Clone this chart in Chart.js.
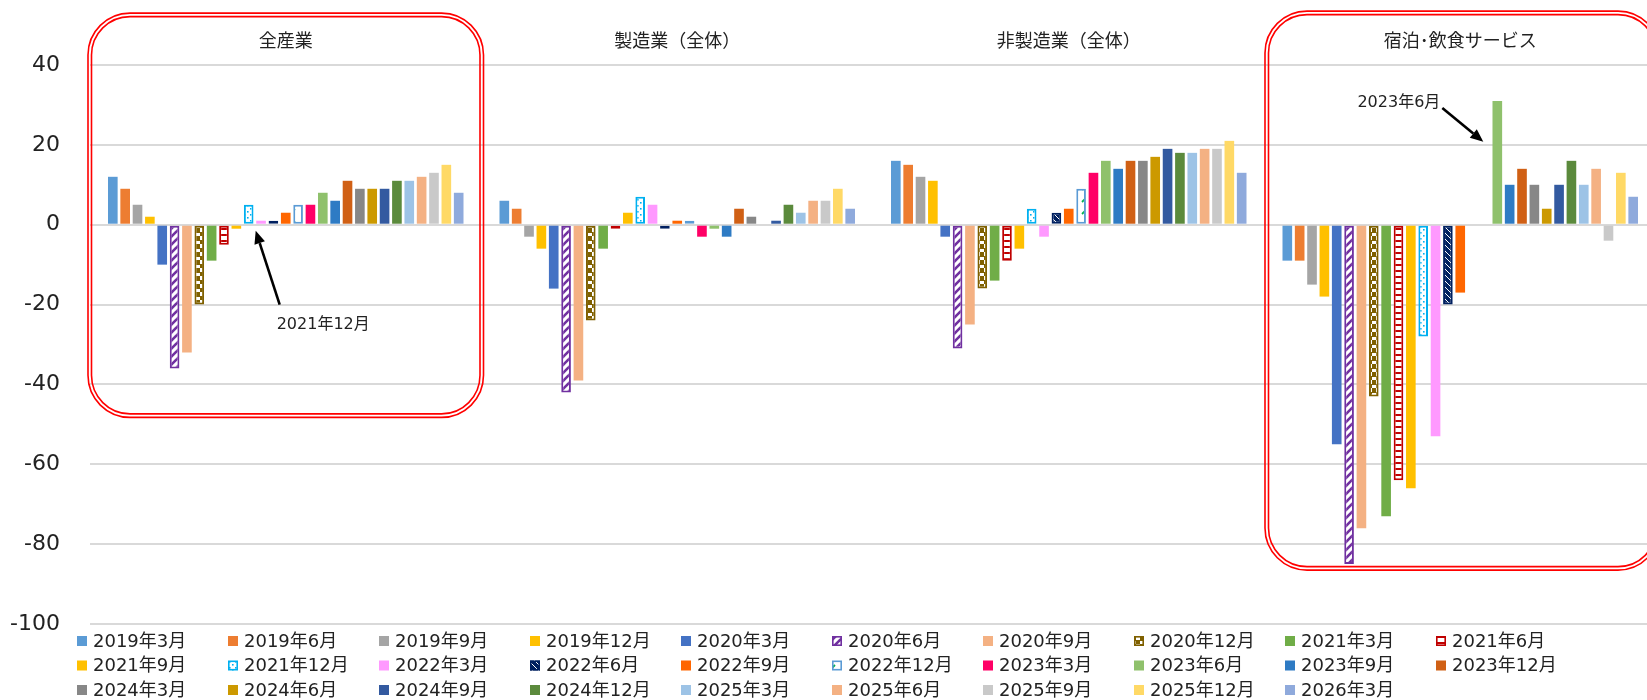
<!DOCTYPE html>
<html><head><meta charset="utf-8">
<script src="https://cdn.jsdelivr.net/npm/chart.js@4/dist/chart.umd.min.js"></script>
<style>html,body{margin:0;padding:0;background:#fff;overflow:hidden}#wrap{width:1647px;height:700px;position:relative;overflow:hidden}</style>
</head><body><div id="wrap"><canvas id="c" width="1656" height="700"></canvas></div>
<script>
// ---- data ----
const categories = ['全産業', '製造業（全体）', '非製造業（全体）', '宿泊･飲食サービス'];
const seriesLabels = ['2019年3月','2019年6月','2019年9月','2019年12月','2020年3月','2020年6月','2020年9月','2020年12月','2021年3月','2021年6月',
  '2021年9月','2021年12月','2022年3月','2022年6月','2022年9月','2022年12月','2023年3月','2023年6月','2023年9月','2023年12月',
  '2024年3月','2024年6月','2024年9月','2024年12月','2025年3月','2025年6月','2025年9月','2025年12月','2026年3月'];
const allIndustry      = [12, 9, 5, 2, -10, -36, -32, -20, -9, -5, -1, 5, 1, 1, 3, 5, 5, 8, 6, 11, 9, 9, 9, 11, 11, 12, 13, 15, 8];
const manufacturing    = [6, 4, -3, -6, -16, -42, -39, -24, -6, -1, 3, 7, 5, -1, 1, 1, -3, -1, -3, 4, 2, 0, 1, 5, 3, 6, 6, 9, 4];
const nonManufacturing = [16, 15, 12, 11, -3, -31, -25, -16, -14, -9, -6, 4, -3, 3, 4, 9, 13, 16, 14, 16, 16, 17, 19, 18, 18, 19, 19, 21, 13];
const accommodation    = [-9, -9, -15, -18, -55, -85, -76, -43, -73, -64, -66, -28, -53, -20, -17, null, null, 31, 10, 14, 10, 4, 10, 16, 10, 14, -4, 13, 7];
const yTicks = [40, 20, 0, -20, -40, -60, -80, -100];
const seriesColors = ['#5B9BD5','#ED7D31','#A5A5A5','#FFC000','#4472C4','#7030A0','#F4B183','#7F6000','#70AD47','#C00000',
  '#FFC000','#00B0F0','#FF99FF','#002060','#FF6600','#00B050','#FF0066','#8FC16C','#2E7BC4','#D06015',
  '#878787','#CC9900','#335AA0','#5B8A3C','#9DC3E6','#F4B183','#C9C9C9','#FFD966','#8FAADC'];
// pattern kind per series (null = solid)
const seriesPatterns = [null,null,null,null,null,'diagUp',null,'checker',null,'hlines',
  null,'dots',null,'diagDown',null,'dashUp',null,null,null,null,null,null,null,null,null,null,null,null,null];
const patternBorders = {15: '#5B9BD5'};
const annoText1 = '2021年12月';
const annoText2 = '2023年6月';

const FONT = '"DejaVu Sans", "Noto Sans CJK JP", sans-serif';
const TEXT = '#222';

function makePattern(kind, fg) {
  const sizes = {diagUp: 8, checker: 8, hlines: 6, dots: 6, diagDown: 6, dashUp: 12};
  const s = sizes[kind];
  const c = document.createElement('canvas'); c.width = s; c.height = s;
  const g = c.getContext('2d');
  const line = (x1, y1, x2, y2) => { g.beginPath(); g.moveTo(x1, y1); g.lineTo(x2, y2); g.stroke(); };
  g.fillStyle = '#fff'; g.fillRect(0, 0, s, s);
  g.strokeStyle = fg; g.fillStyle = fg;
  if (kind === 'diagUp') { g.lineWidth = 2.6; line(-1, s + 1, s + 1, -1); line(-1, 1, 1, -1); line(s - 1, s + 1, s + 1, s - 1); }
  else if (kind === 'checker') { g.fillRect(0, 0, 4, 4); g.fillRect(4, 4, 4, 4); g.fillRect(4, 0, 4, 1); }
  else if (kind === 'hlines') { g.fillRect(0, 0, s, 2); }
  else if (kind === 'dots') { g.fillRect(1, 1, 1.6, 1.6); g.fillRect(4, 4, 1.6, 1.6); }
  else if (kind === 'diagDown') { g.fillRect(0, 0, s, s); g.strokeStyle = '#fff'; g.lineWidth = 1; line(0, 0, s, s); line(-1, s - 1, 1, s + 1); line(s - 1, -1, s + 1, 1); }
  else if (kind === 'dashUp') { g.lineWidth = 1.8; line(2, 10, 7, 5); }
  return document.createElement('canvas').getContext('2d').createPattern(c, 'repeat');
}

const datasets = seriesLabels.map((lab, i) => {
  const pat = seriesPatterns[i];
  const vals = [allIndustry[i], manufacturing[i], nonManufacturing[i], accommodation[i]];
  return {
    label: lab,
    data: vals,
    backgroundColor: pat ? makePattern(pat, seriesColors[i]) : seriesColors[i],
    borderColor: pat ? (patternBorders[i] || seriesColors[i]) : seriesColors[i],
    borderWidth: pat ? 2 : 0,
    borderSkipped: pat ? false : 'start',
    categoryPercentage: 0.915,
    barPercentage: 0.78,
    _pattern: pat
  };
});

function arrow(ctx, x1, y1, x2, y2) {
  const ang = Math.atan2(y2 - y1, x2 - x1);
  const hl = 13, hw = 5.5;
  const bx = x2 - hl * Math.cos(ang), by = y2 - hl * Math.sin(ang);
  ctx.save();
  ctx.strokeStyle = '#000'; ctx.fillStyle = '#000'; ctx.lineWidth = 2.6;
  ctx.beginPath(); ctx.moveTo(x1, y1); ctx.lineTo(bx, by); ctx.stroke();
  ctx.beginPath(); ctx.moveTo(x2, y2);
  ctx.lineTo(bx + hw * Math.sin(ang), by - hw * Math.cos(ang));
  ctx.lineTo(bx - hw * Math.sin(ang), by + hw * Math.cos(ang));
  ctx.closePath(); ctx.fill();
  ctx.restore();
}
function roundRect(ctx, x, y, w, h, r) {
  ctx.beginPath();
  ctx.moveTo(x + r, y); ctx.lineTo(x + w - r, y); ctx.arcTo(x + w, y, x + w, y + r, r);
  ctx.lineTo(x + w, y + h - r); ctx.arcTo(x + w, y + h, x + w - r, y + h, r);
  ctx.lineTo(x + r, y + h); ctx.arcTo(x, y + h, x, y + h - r, r);
  ctx.lineTo(x, y + r); ctx.arcTo(x, y, x + r, y, r); ctx.closePath();
}
function doubleBox(ctx, x1, y1, x2, y2) {
  ctx.save(); ctx.strokeStyle = '#FF0000'; ctx.lineWidth = 1.6;
  roundRect(ctx, x1, y1, x2 - x1, y2 - y1, 42); ctx.stroke();
  roundRect(ctx, x1 + 3.5, y1 + 3.5, x2 - x1 - 7, y2 - y1 - 7, 38.5); ctx.stroke();
  ctx.restore();
}

const annotationPlugin = {
  id: 'annos',
  afterDraw(chart) {
    const {ctx, scales: {x, y}} = chart;
    const catW = x.width / categories.length;
    // red boxes
    doubleBox(ctx, x.getPixelForValue(0) - catW / 2 - 2, y.getPixelForValue(53), x.getPixelForValue(0) + catW / 2 + 2, y.getPixelForValue(-48.25));
    doubleBox(ctx, x.getPixelForValue(3) - catW / 2 + 0.5, y.getPixelForValue(53.5), x.getPixelForValue(3) + catW / 2 + 4, y.getPixelForValue(-86.5));
    // arrow 1 -> 2021年12月 bar in 全産業
    const b1 = chart.getDatasetMeta(11).data[0];
    arrow(ctx, b1.x + 31, y.getPixelForValue(-20), b1.x + 7, y.getPixelForValue(-1.5));
    ctx.save(); ctx.font = '16px ' + FONT; ctx.fillStyle = TEXT; ctx.textBaseline = 'middle'; ctx.textAlign = 'left';
    ctx.fillText(annoText1, b1.x + 28, y.getPixelForValue(-25));
    // arrow 2 -> 2023年6月 bar in 宿泊
    const b2 = chart.getDatasetMeta(17).data[3];
    ctx.textAlign = 'right';
    ctx.fillText(annoText2, b2.x - 57, y.getPixelForValue(30.5));
    ctx.restore();
    arrow(ctx, b2.x - 55, y.getPixelForValue(29.25), b2.x - 14, y.getPixelForValue(20.75));

    // legend grid
    ctx.save();
    ctx.font = '18px ' + FONT; ctx.textBaseline = 'middle'; ctx.textAlign = 'left'; ctx.fillStyle = TEXT;
    chart.data.datasets.forEach((ds, i) => {
      const col = i % 10, row = Math.floor(i / 10);
      const lx = 77 + col * 151, ly = 641 + row * 24.5;
      ctx.fillStyle = ds.backgroundColor;
      ctx.fillRect(lx, ly - 5, 10, 10);
      if (ds._pattern) { ctx.strokeStyle = ds.borderColor; ctx.lineWidth = 1.6; ctx.strokeRect(lx + 0.8, ly - 4.2, 8.4, 8.4); }
      ctx.fillStyle = TEXT;
      ctx.fillText(ds.label, lx + 16, ly + 1);
    });
    ctx.restore();
  }
};

new Chart(document.getElementById('c'), {
  type: 'bar',
  data: {labels: categories, datasets},
  plugins: [annotationPlugin],
  options: {
    responsive: false, animation: false, devicePixelRatio: 1,
    layout: {padding: {top: 0, left: 0, right: 0, bottom: 76}},
    plugins: {legend: {display: false}, tooltip: {enabled: false}},
    scales: {
      x: {
        position: 'top',
        grid: {display: false, drawTicks: false}, border: {display: false},
        ticks: {font: {size: 18, family: FONT}, color: TEXT, padding: 12, maxRotation: 0},
        afterFit(s) { s.height = 65; }
      },
      y: {
        min: -100, max: 40,
        afterBuildTicks(s) { s.ticks = yTicks.map(v => ({value: v})); },
        grid: {color: '#d9d9d9', lineWidth: 2, drawTicks: false}, border: {display: false},
        ticks: {font: {size: 22, family: FONT}, color: TEXT, padding: 30},
        afterFit(s) { s.width = 90; }
      }
    }
  }
});
</script></body></html>
